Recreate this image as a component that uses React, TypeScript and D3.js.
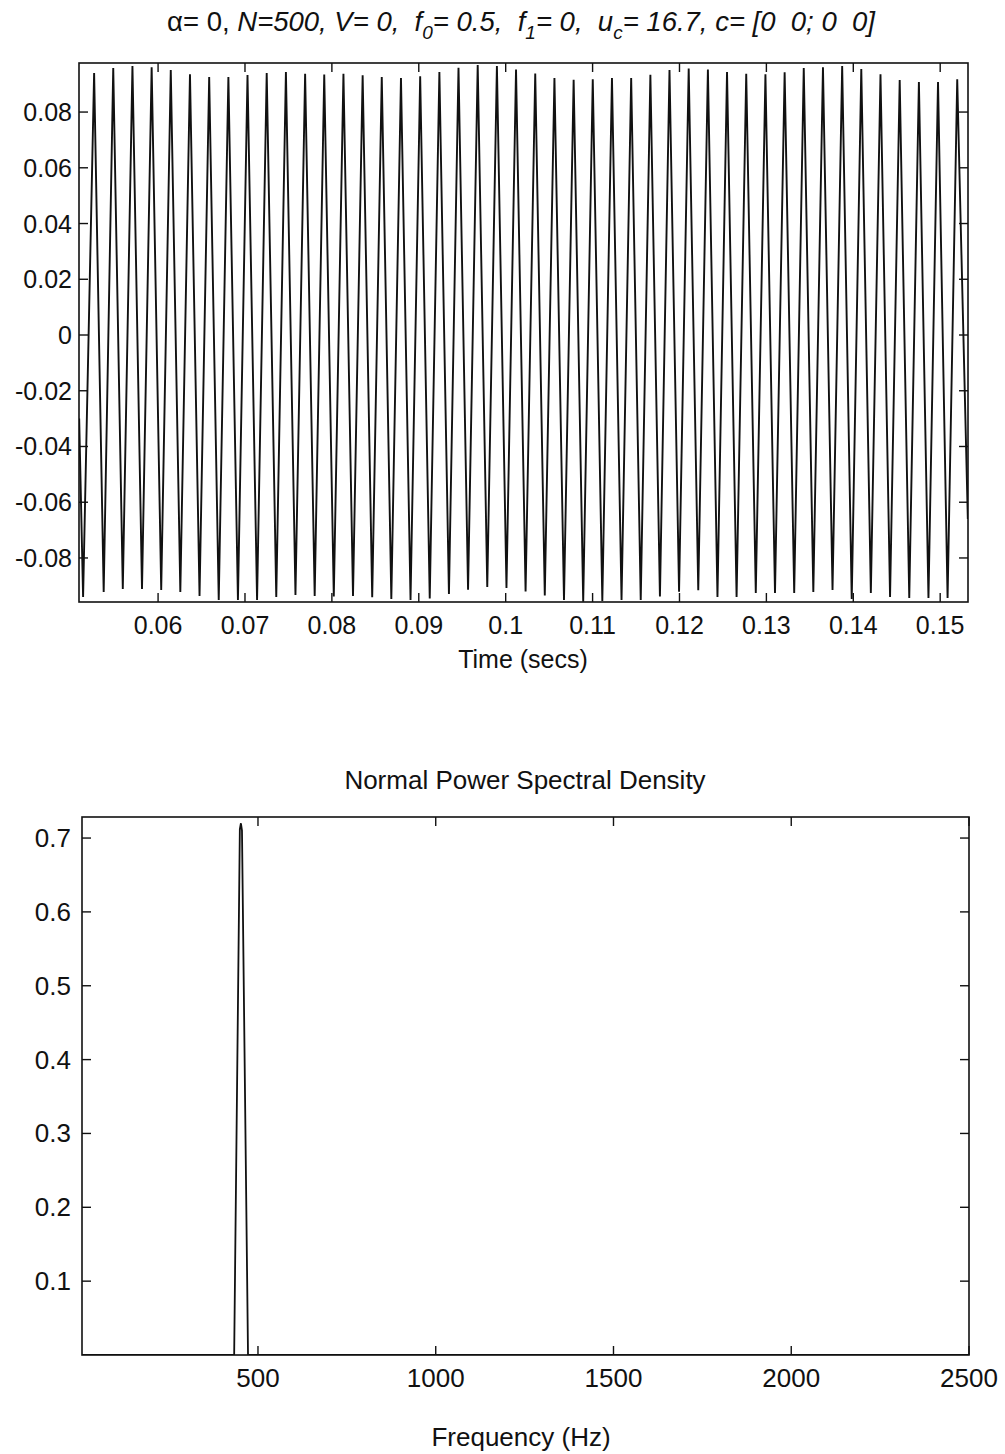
import React from "react";
import * as d3 from "d3";

// ---- Top panel: extrema of the time signal ----
const peakTime = [0.05264, 0.05484, 0.05705, 0.05926, 0.06146, 0.06367, 0.06588, 0.06809, 0.07029, 0.0725, 0.07471, 0.07692, 0.07912, 0.08133, 0.08354, 0.08574, 0.08795, 0.09016, 0.09237, 0.09457, 0.09678, 0.09899, 0.10119, 0.1034, 0.10561, 0.10782, 0.11002, 0.11223, 0.11444, 0.11665, 0.11885, 0.12106, 0.12327, 0.12547, 0.12768, 0.12989, 0.1321, 0.1343, 0.13651, 0.13872, 0.14092, 0.14313, 0.14534, 0.14755, 0.14975, 0.15196];
const peakValue = [0.094, 0.0958, 0.0965, 0.0961, 0.0951, 0.0936, 0.0926, 0.0926, 0.0933, 0.094, 0.0944, 0.0937, 0.0935, 0.0937, 0.0932, 0.0926, 0.0922, 0.0928, 0.0944, 0.0959, 0.0969, 0.0965, 0.0953, 0.0938, 0.0922, 0.0916, 0.0918, 0.0922, 0.0922, 0.0934, 0.0951, 0.0956, 0.0953, 0.0944, 0.0937, 0.0936, 0.0943, 0.0958, 0.0961, 0.0965, 0.0954, 0.0936, 0.0915, 0.0908, 0.0908, 0.0918];
const troughTime = [0.05137, 0.05374, 0.05594, 0.05815, 0.06036, 0.06256, 0.06477, 0.06698, 0.06919, 0.07139, 0.0736, 0.07581, 0.07802, 0.08022, 0.08243, 0.08464, 0.08684, 0.08905, 0.09126, 0.09347, 0.09567, 0.09788, 0.10009, 0.10229, 0.1045, 0.10671, 0.10892, 0.11112, 0.11333, 0.11554, 0.11775, 0.11995, 0.12216, 0.12437, 0.12657, 0.12878, 0.13099, 0.1332, 0.1354, 0.13761, 0.13982, 0.14202, 0.14423, 0.14644, 0.14865, 0.15085];
const troughValue = [-0.094, -0.0922, -0.0911, -0.0911, -0.0915, -0.0922, -0.0936, -0.0951, -0.0951, -0.0951, -0.094, -0.0933, -0.0936, -0.0938, -0.0936, -0.0941, -0.0947, -0.0951, -0.0945, -0.0929, -0.0914, -0.0904, -0.0908, -0.092, -0.0935, -0.0951, -0.0957, -0.0954, -0.0951, -0.0951, -0.0938, -0.0921, -0.0916, -0.094, -0.094, -0.0926, -0.0926, -0.0926, -0.0922, -0.0915, -0.0947, -0.0926, -0.094, -0.0944, -0.0944, -0.0944];
const signalStart = { t: 0.05092, v: -0.03 };
const signalEnd = { t: 0.15318, v: -0.066 };

const timeTicks = [0.06, 0.07, 0.08, 0.09, 0.1, 0.11, 0.12, 0.13, 0.14, 0.15];
const timeTickLabels = ["0.06", "0.07", "0.08", "0.09", "0.1", "0.11", "0.12", "0.13", "0.14", "0.15"];
const ampTicks = [-0.08, -0.06, -0.04, -0.02, 0, 0.02, 0.04, 0.06, 0.08];
const ampTickLabels = ["-0.08", "-0.06", "-0.04", "-0.02", "0", "0.02", "0.04", "0.06", "0.08"];

// ---- Bottom panel: PSD ----
const psdFreq = [5, 433, 449, 452, 455, 472, 2500];
const psdValue = [0, 0, 0.712, 0.72, 0.71, 0, 0];
const freqTicks = [500, 1000, 1500, 2000, 2500];
const freqTickLabels = ["500", "1000", "1500", "2000", "2500"];
const psdTicks = [0.1, 0.2, 0.3, 0.4, 0.5, 0.6, 0.7];
const psdTickLabels = ["0.1", "0.2", "0.3", "0.4", "0.5", "0.6", "0.7"];

const FONT = "'Liberation Sans', Arial, Helvetica, sans-serif";

export default function App() {
  const T = { l: 79, r: 968, t: 63, b: 602 };
  const B = { l: 82, r: 969, t: 817, b: 1355 };
  const tick = 9;

  const xT = d3.scaleLinear().domain([0.0509, 0.1532]).range([T.l, T.r]);
  const yT = d3.scaleLinear().domain([-0.0958, 0.0976]).range([T.b, T.t]);
  const xB = d3.scaleLinear().domain([5, 2500]).range([B.l, B.r]);
  const yB = d3.scaleLinear().domain([0, 0.7285]).range([B.b, B.t]);

  const pts: [number, number][] = [[signalStart.t, signalStart.v]];
  for (let i = 0; i < peakTime.length; i++) {
    if (i < troughTime.length) pts.push([troughTime[i], troughValue[i]]);
    pts.push([peakTime[i], peakValue[i]]);
  }
  pts.push([signalEnd.t, signalEnd.v]);

  const lineT = d3.line<[number, number]>().x((d) => xT(d[0])).y((d) => yT(d[1]));
  const psdPts: [number, number][] = psdFreq.map((f, i) => [f, psdValue[i]]);
  const lineB = d3.line<[number, number]>().x((d) => xB(d[0])).y((d) => yB(d[1]));

  const stroke = "#111";

  return (
    <svg
      width={1005}
      height={1454}
      style={{ position: "absolute", left: 0, top: 0, background: "#fff" }}
      fontFamily={FONT}
    >
      <rect x={0} y={0} width={1005} height={1454} fill="#fff" />
      {/* Top title */}
      <text x={521} y={31} fontSize={27.5} textAnchor="middle" fill={stroke} style={{ whiteSpace: "pre" }}>
        <tspan>α= 0, </tspan>
        <tspan fontStyle="italic">N=500, V= 0,  f</tspan>
        <tspan fontStyle="italic" fontSize={19} dy={8}>0</tspan>
        <tspan fontStyle="italic" dy={-8}>= 0.5,  f</tspan>
        <tspan fontStyle="italic" fontSize={19} dy={8}>1</tspan>
        <tspan fontStyle="italic" dy={-8}>= 0,  u</tspan>
        <tspan fontStyle="italic" fontSize={19} dy={8}>c</tspan>
        <tspan fontStyle="italic" dy={-8}>= 16.7, c= [0  0; 0  0]</tspan>
      </text>

      {/* Top panel */}
      <g>
        <clipPath id="clipT">
          <rect x={T.l} y={T.t} width={T.r - T.l} height={T.b - T.t} />
        </clipPath>
        <path d={lineT(pts) || ""} fill="none" stroke={stroke} strokeWidth={1.9} strokeLinejoin="miter" clipPath="url(#clipT)" />
        <rect x={T.l} y={T.t} width={T.r - T.l} height={T.b - T.t} fill="none" stroke={stroke} strokeWidth={1.6} />
        {timeTicks.map((v, i) => (
          <g key={"tx" + i}>
            <line x1={xT(v)} x2={xT(v)} y1={T.b} y2={T.b - tick} stroke={stroke} strokeWidth={1.4} />
            <line x1={xT(v)} x2={xT(v)} y1={T.t} y2={T.t + tick} stroke={stroke} strokeWidth={1.4} />
            <text x={xT(v)} y={T.b + 32} fontSize={25} textAnchor="middle" fill={stroke}>
              {timeTickLabels[i]}
            </text>
          </g>
        ))}
        {ampTicks.map((v, i) => (
          <g key={"ty" + i}>
            <line x1={T.l} x2={T.l + tick} y1={yT(v)} y2={yT(v)} stroke={stroke} strokeWidth={1.4} />
            <line x1={T.r} x2={T.r - tick} y1={yT(v)} y2={yT(v)} stroke={stroke} strokeWidth={1.4} />
            <text x={T.l - 7} y={yT(v) + 9} fontSize={25} textAnchor="end" fill={stroke}>
              {ampTickLabels[i]}
            </text>
          </g>
        ))}
        <text x={523} y={668} fontSize={25} textAnchor="middle" fill={stroke}>
          Time (secs)
        </text>
      </g>

      {/* Bottom panel */}
      <g>
        <text x={525} y={789} fontSize={26} textAnchor="middle" fill={stroke}>
          Normal Power Spectral Density
        </text>
        <clipPath id="clipB">
          <rect x={B.l} y={B.t} width={B.r - B.l} height={B.b - B.t} />
        </clipPath>
        <path d={lineB(psdPts) || ""} fill="none" stroke={stroke} strokeWidth={1.8} clipPath="url(#clipB)" />
        <rect x={B.l} y={B.t} width={B.r - B.l} height={B.b - B.t} fill="none" stroke={stroke} strokeWidth={1.6} />
        {freqTicks.map((v, i) => (
          <g key={"bx" + i}>
            <line x1={xB(v)} x2={xB(v)} y1={B.b} y2={B.b - tick} stroke={stroke} strokeWidth={1.4} />
            <line x1={xB(v)} x2={xB(v)} y1={B.t} y2={B.t + tick} stroke={stroke} strokeWidth={1.4} />
            <text x={xB(v)} y={B.b + 32} fontSize={26} textAnchor="middle" fill={stroke}>
              {freqTickLabels[i]}
            </text>
          </g>
        ))}
        {psdTicks.map((v, i) => (
          <g key={"by" + i}>
            <line x1={B.l} x2={B.l + tick} y1={yB(v)} y2={yB(v)} stroke={stroke} strokeWidth={1.4} />
            <line x1={B.r} x2={B.r - tick} y1={yB(v)} y2={yB(v)} stroke={stroke} strokeWidth={1.4} />
            <text x={B.l - 11} y={yB(v) + 9} fontSize={26} textAnchor="end" fill={stroke}>
              {psdTickLabels[i]}
            </text>
          </g>
        ))}
        <text x={521} y={1446} fontSize={26} textAnchor="middle" fill={stroke}>
          Frequency (Hz)
        </text>
      </g>
    </svg>
  );
}
